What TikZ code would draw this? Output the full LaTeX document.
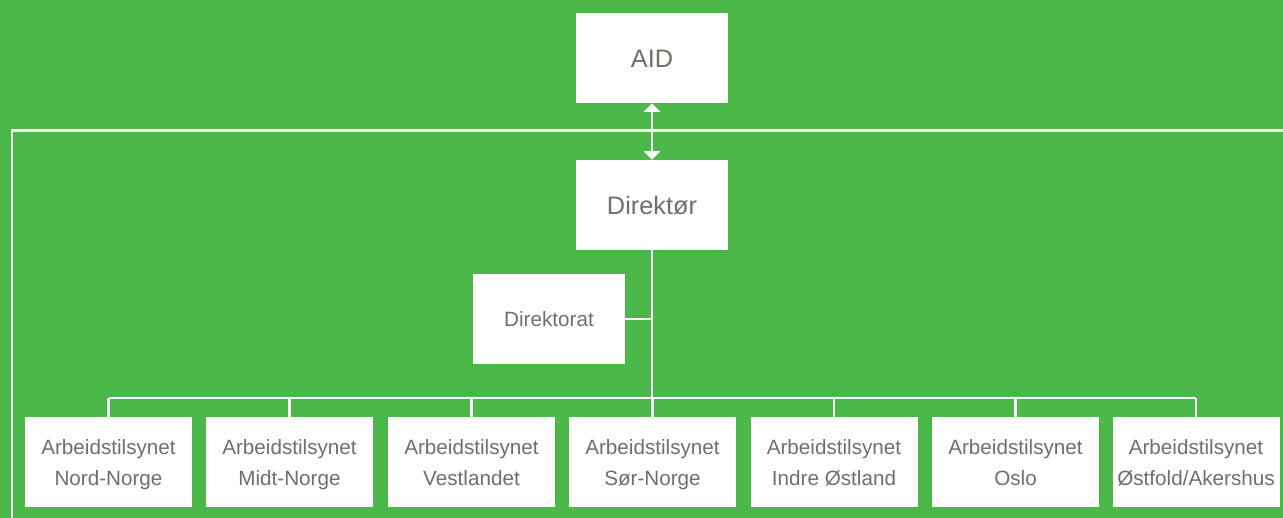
\documentclass[tikz,border=0pt]{standalone}
\usepackage{fontspec}
\setmainfont{Liberation Sans}
\usetikzlibrary{arrows.meta}
\definecolor{bggreen}{RGB}{77,184,74}
\definecolor{txtgray}{RGB}{108,114,104}
\tikzset{
  box/.style={draw=none, fill=white, text=txtgray, minimum width=152*0.75pt, minimum height=90*0.75pt, inner sep=0pt, text height=14.5pt, text depth=0pt, font=\fontsize{19pt}{23pt}\selectfont},
  smallbox/.style={draw=none, fill=white, text=txtgray, minimum width=152*0.75pt, minimum height=90*0.75pt, inner sep=0pt, font=\fontsize{15.5pt}{23.25pt}\selectfont, align=center},
  unitbox/.style={smallbox, minimum width=167*0.75pt},
  wire/.style={draw=white, line width=1.7pt},
}
\newcommand{\mystrut}{\rule[-6pt]{0pt}{23.25pt}}
\newcommand{\twolines}[2]{\mystrut #1\\\mystrut #2}
\begin{document}
\begin{tikzpicture}[x=0.75pt, y=-0.75pt]
\fill[bggreen] (0,0) rectangle (1283,518);
\useasboundingbox (0,0) rectangle (1283,518);
% frame line
\coordinate (fl) at (12,518);
\coordinate (ftl) at (12,130.5);
\coordinate (fr) at (1283,130.5);
\draw[wire] (fl) -- (ftl) -- (fr);
% top boxes
\node[box] (aid) at (652,58) {AID};
\node[box] (dir) at (652,205) {Direktør};
\node[smallbox] (dirat) at (549,319) {Direktorat};
\draw[wire, {Triangle[width=12.5pt,length=6.5pt]}-{Triangle[width=12.5pt,length=6.5pt]}] (aid.south) -- (dir.north);
% bus
\coordinate (bus) at (652,398);
\draw[wire] (dir.south) -- (bus);
\draw[wire] (dirat.east) -- (dirat.east -| dir.south);
% units
\node[unitbox] (u1) at (108.5,462) {\twolines{Arbeidstilsynet}{Nord-Norge}};
\node[unitbox] (u2) at (289.5,462) {\twolines{Arbeidstilsynet}{Midt-Norge}};
\node[unitbox] (u3) at (471.5,462) {\twolines{Arbeidstilsynet}{Vestlandet}};
\node[unitbox] (u4) at (652.5,462) {\twolines{Arbeidstilsynet}{Sør-Norge}};
\node[unitbox] (u5) at (834,462) {\twolines{Arbeidstilsynet}{Indre Østland}};
\node[unitbox] (u6) at (1015.5,462) {\twolines{Arbeidstilsynet}{Oslo}};
\node[unitbox] (u7) at (1196,462) {\twolines{Arbeidstilsynet}{Østfold/Akershus}};
\draw[wire] (u1.north |- bus) -- (u7.north |- bus);
\foreach \u in {u1,u2,u3,u4,u5,u6,u7} {
  \draw[wire] (\u.north |- bus) -- (\u.north);
}
\end{tikzpicture}
\end{document}
